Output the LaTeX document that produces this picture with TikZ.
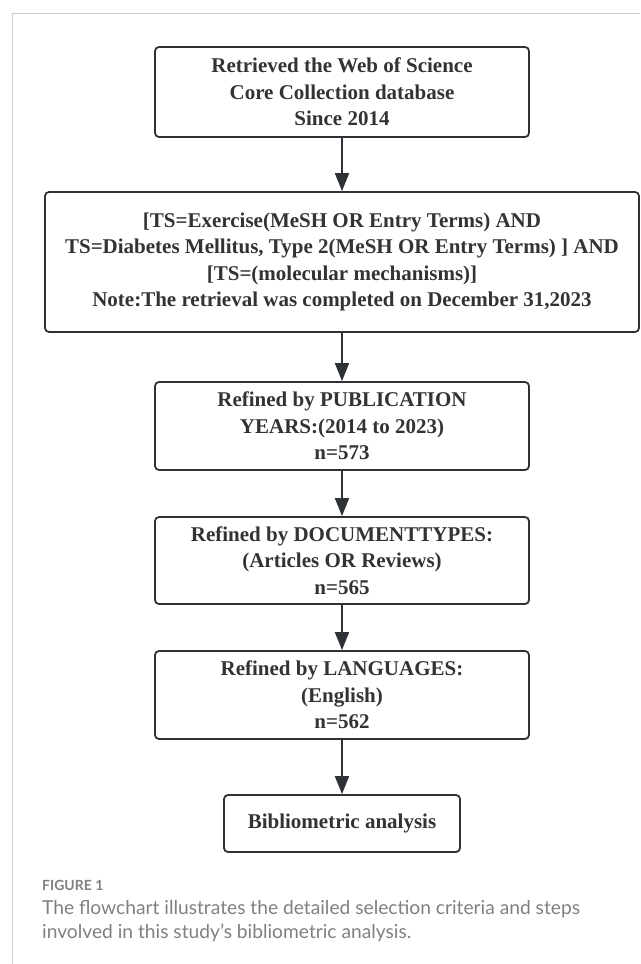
\documentclass[tikz,border=0pt]{standalone}
\usepackage{fontspec}
\setmainfont{Liberation Serif}
\newfontfamily\capfont{Lato}
\usetikzlibrary{arrows.meta}
\definecolor{ink}{HTML}{2E3236}
\definecolor{txt}{HTML}{333333}
\definecolor{framecol}{HTML}{CCCCCC}
\definecolor{captxt}{HTML}{808080}
\begin{document}
\begin{tikzpicture}[x=1pt,y=-1pt,
  box/.style={draw=ink, line width=1.8pt, rounded corners=4pt, align=center, inner sep=0pt, text=txt, font=\fontsize{21}{26.5}\selectfont\bfseries},
  arr/.style={draw=ink, line width=1.8pt, -{Triangle[length=18pt,width=14pt]}},
  captag/.style={anchor=base west, inner sep=0pt, text=captxt, font=\capfont\fontsize{14}{16}\selectfont\bfseries},
  capline/.style={anchor=base west, inner sep=0pt, text=captxt, font=\capfont\fontsize{19.2}{24}\selectfont}]
\useasboundingbox (0,0) rectangle (640,964);
\draw[framecol, line width=1pt] (640,13) -- (12,13) -- (12,964);
\node[box, minimum width=374pt, minimum height=90pt] (b1) at (342,92)
  {Retrieved the Web of Science\\Core Collection database\\Since 2014};
\node[box, minimum width=594pt, minimum height=140pt] (b2) at (342,262)
  {{}[TS=Exercise(MeSH OR Entry Terms) AND\\TS=Diabetes Mellitus, Type 2(MeSH OR Entry Terms) ] AND\\{}[TS=(molecular mechanisms)]\\Note:The retrieval was completed on December 31,2023};
\node[box, minimum width=374pt, minimum height=88pt] (b3) at (342,426)
  {Refined by PUBLICATION\\YEARS:(2014 to 2023)\\n=573};
\node[box, minimum width=374pt, minimum height=87pt] (b4) at (342,560.5)
  {Refined by DOCUMENTTYPES:\\(Articles OR Reviews)\\n=565};
\node[box, minimum width=374pt, minimum height=88pt] (b5) at (342,695)
  {Refined by LANGUAGES:\\(English)\\n=562};
\node[box, minimum width=236pt, minimum height=57pt] (b6) at (342,823.5)
  {Bibliometric analysis};
\draw[arr] (b1.south) -- (b2.north);
\draw[arr] (b2.south) -- (b3.north);
\draw[arr] (b3.south) -- (b4.north);
\draw[arr] (b4.south) -- (b5.north);
\draw[arr] (b5.south) -- (b6.north);
\node[captag] (fig) at (42,890) {FIGURE 1};
\node[capline] (cap1) at (42,914) {The flowchart illustrates the detailed selection criteria and steps};
\node[capline] (cap2) at (42,938) {involved in this study’s bibliometric analysis.};
\end{tikzpicture}
\end{document}
